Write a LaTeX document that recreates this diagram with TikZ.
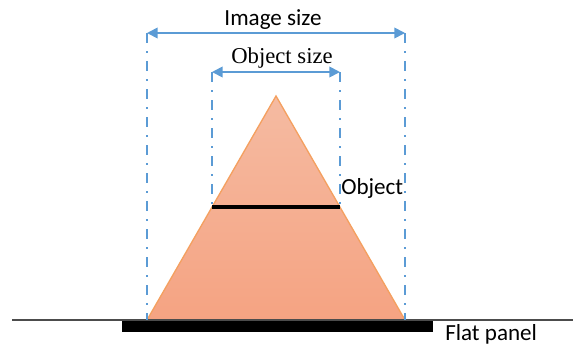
\documentclass[tikz,border=0pt]{standalone}
\usepackage{fontspec}
\setmainfont{Liberation Serif}
\newfontfamily\carlitofont{Carlito}
\usetikzlibrary{arrows.meta}
\definecolor{dimblue}{HTML}{5B9BD5}
\definecolor{triedge}{HTML}{F4A060}
\definecolor{tritop}{HTML}{F5BBA2}
\definecolor{tribot}{HTML}{F5A382}
\tikzset{
  guide/.style={dimblue, line width=1.6pt, dash pattern=on 7.5pt off 6pt on 1.5pt off 6pt},
  dimarrow/.style={dimblue, line width=1.3pt, {Triangle[length=8pt,width=8pt]}-{Triangle[length=8pt,width=8pt]}},
  lbl/.style={inner sep=0pt, anchor=base, font=\fontsize{17}{20}\selectfont},
  sanslbl/.style={lbl, font=\carlitofont\fontsize{17.3}{20}\selectfont}
}
\begin{document}
\begin{tikzpicture}[x=0.75pt,y=-0.75pt]
\useasboundingbox (0,0) rectangle (573,347);
% coordinates
\coordinate (apex) at (276,96);
\coordinate (bl) at (147,320);
\coordinate (br) at (405,320);
\coordinate (ol) at (212,207);
\coordinate (or) at (340,207);
\coordinate (il) at (147,33);
\coordinate (ir) at (405,33);
\coordinate (osl) at (212,72);
\coordinate (osr) at (340,72);
\coordinate (gl) at (12,320);
\coordinate (gr) at (573,320);
% triangle
\shade[top color=tritop, bottom color=tribot, draw=triedge, line width=1pt] (apex) -- (br) -- (bl) -- cycle;
% ground line
\draw[black!70, line width=0.8pt] (gl) -- (gr);
% panel
\fill[black] (122,320.5) rectangle (433,332);
% object line
\draw[black, line width=3.2pt] (ol) -- (or);
% guide lines
\draw[guide] (il) -- (bl);
\draw[guide] (ir) -- (br);
\draw[guide] (osl) -- (ol);
\draw[guide] (osr) -- (or);
% dimension arrows
\draw[dimarrow] (il) -- (ir);
\draw[dimarrow] (osl) -- (osr);
% labels
\node[sanslbl] (imgsize) at (273,25) {Image size};
\node[lbl] (objsize) at (282,63) {Object size};
\node[sanslbl, anchor=base west] (obj) at (341,194) {Object};
\node[sanslbl, anchor=base west] (panel) at (445,340) {Flat panel};
\end{tikzpicture}
\end{document}
